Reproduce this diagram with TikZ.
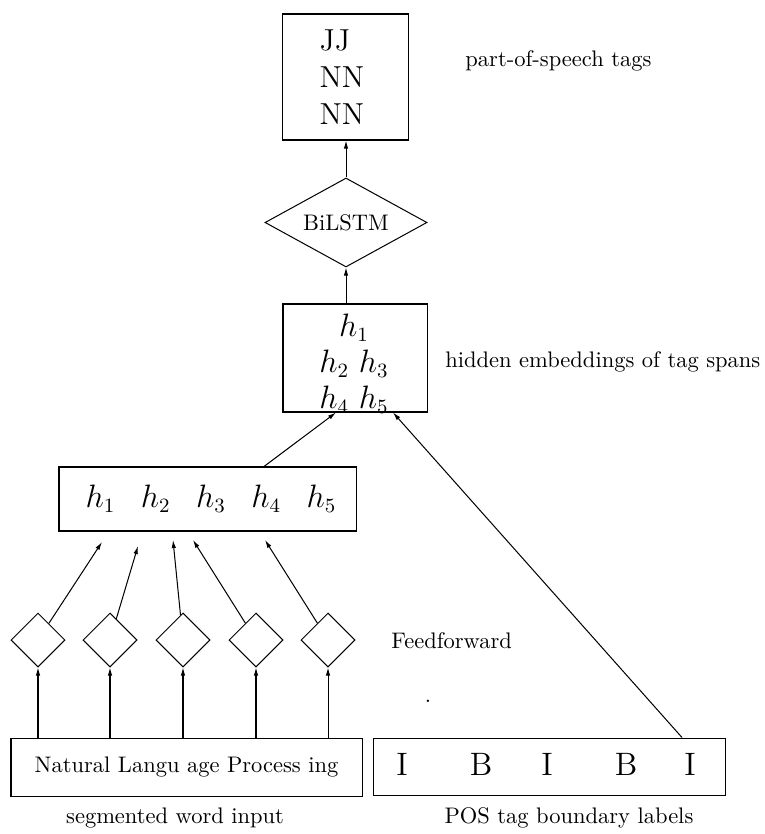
\documentclass[tikz,border=0pt]{standalone}
\usetikzlibrary{shapes.geometric,arrows.meta}
\newcommand{\pxu}{0.4444pt}
\begin{document}
\begin{tikzpicture}[x=\pxu,y=-\pxu,
  box/.style={draw, rectangle, inner sep=0pt, line width=0.45pt},
  ffbox/.style={draw, diamond, inner sep=0pt, line width=0.45pt,
    minimum width=54*\pxu, minimum height=54*\pxu},
  conn/.style={-{Latex[length=3.6pt,width=2pt]}, line width=0.45pt},
  lbl/.style={inner sep=0pt},
  big/.style={font=\fontsize{13.5}{16.5}\selectfont}]
\useasboundingbox (0,0) rectangle (765,834);

% output tags
\node[box, big, minimum width=126*\pxu, minimum height=126*\pxu,
  text width=52*\pxu, align=left]
  (tags) at (345.5,77) {JJ\\NN\\NN};
\node[lbl, anchor=west] (lpos) at (465,61) {part-of-speech tags};

% sequence model
\node[box, diamond, aspect=2, minimum width=162*\pxu, minimum height=89*\pxu]
  (lstm) at (346,222.5) {BiLSTM};

% span embeddings
\node[box, minimum width=144*\pxu, minimum height=108*\pxu]
  (span) at (355,358) {};
\node[inner sep=0pt, align=center, font=\fontsize{13.5}{16}\selectfont]
  (spantxt) at (354,364) {$h_1$\\$h_2$ $h_3$\\$h_4$ $h_5$};
\node[lbl, anchor=west] (lspan) at (445,362) {hidden embeddings of tag spans};

% character embeddings
\node[box, minimum width=297*\pxu, minimum height=64*\pxu] (emb) at (207.5,499) {};
\node[big, inner sep=0pt] (embtxt) at (211,499)
  {$h_1$\hspace{11.3pt}$h_2$\hspace{11.3pt}$h_3$\hspace{11.3pt}$h_4$\hspace{11.3pt}$h_5$};

% feedforward units
\foreach \i/\x in {1/38,2/110,3/183,4/256,5/328}
  \node[ffbox] (ff\i) at (\x,640) {};
\node[lbl, anchor=west] (lff) at (391,641) {Feedforward};

\coordinate (t1) at (102,542);
\coordinate (t2) at (138,546);
\coordinate (t3) at (173,540);
\coordinate (t4) at (193,540);
\coordinate (t5) at (265,540);

\node[inner sep=0pt] (dot) at (428,701) {.};

% inputs
\node[box, minimum width=351*\pxu, minimum height=58*\pxu]
  (words) at (186.5,767) {Natural Langu age Process ing};
\node[lbl] (lwords) at (175,818) {segmented word input};

\node[box, minimum width=352*\pxu, minimum height=57*\pxu] (bounds) at (549,766.5) {};
\foreach \i/\x/\c in {1/402/I,2/481/B,3/547/I,4/626/B,5/690/I}
  \node[inner sep=0pt, font=\Large] (b\i) at (\x,764) {\c};
\node[lbl] (lbounds) at (569,818) {POS tag boundary labels};

% connectors
\draw[conn] (lstm.north) -- (lstm.north |- tags.south);
\draw[conn] (lstm.south |- span.north) -- (lstm.south);
\draw[conn] ([xshift=56.5*\pxu]emb.north) -- ([xshift=-19*\pxu]span.south);
\draw[conn] ([xshift=133*\pxu]bounds.north) -- ([xshift=38*\pxu]span.south);
\foreach \i in {1,...,5} {
  \draw[conn] (ff\i) -- (t\i);
  \draw[conn] (ff\i.south |- words.north) -- (ff\i.south);
}
\end{tikzpicture}
\end{document}
